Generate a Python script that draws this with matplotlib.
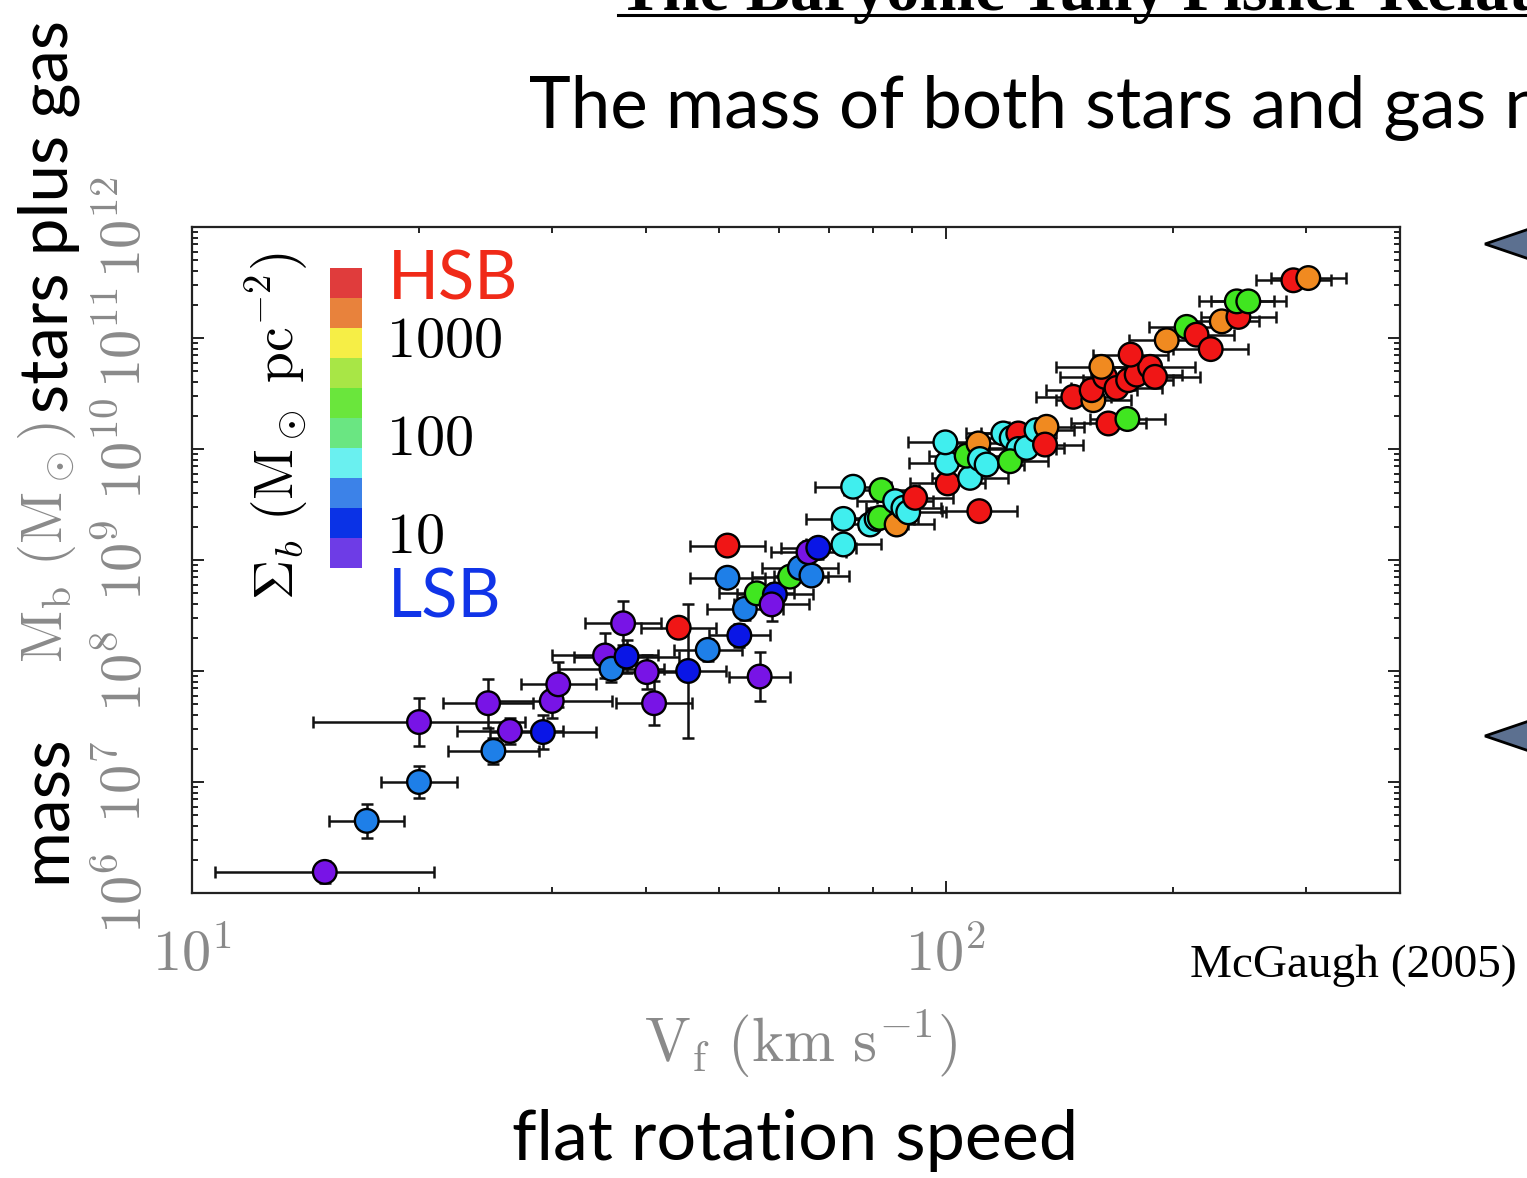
import numpy as np
import matplotlib.pyplot as plt
from matplotlib.colors import ListedColormap
from matplotlib.ticker import LogLocator, FuncFormatter, NullFormatter
from matplotlib.patches import Polygon
from matplotlib.lines import Line2D

plt.rcParams['mathtext.fontset'] = 'cm'

W, H = 1527, 1178

# flat rotation speed (km/s), log10 baryonic mass (Msun), errors in dex, surface density class
vf = [15.0, 17.05, 20.0, 20.0, 24.7, 26.4, 25.1, 29.2, 30.0, 30.6,
      37.3, 35.3, 36.0, 37.7, 40.1, 41.0, 44.2, 45.5, 48.3, 53.2,
      56.6, 54.1, 51.3, 51.3, 56.1, 59.3, 58.7, 62.1, 64.0, 66.3,
      65.7, 67.7, 73.1, 73.1, 79.3, 80.9, 81.7, 86.0, 75.3, 82.1,
      85.6, 87.8, 89.1, 91.0, 100.5, 100.3, 99.8, 107.6, 106.5, 110.4,
      110.9, 113.2, 110.7, 119.1, 122.2, 124.7, 124.7, 121.6, 127.9, 131.8,
      135.9, 135.3, 147.5, 164.2, 174.0, 156.8, 156.0, 162.5, 168.3, 174.4,
      179.0, 186.5, 189.3, 160.7, 175.7, 196.2, 208.5, 214.9, 224.4, 232.1,
      244.2, 243.0, 251.7, 288.8, 302.3]
log_mb = [6.19, 6.65, 7.00, 7.54, 7.71, 7.46, 7.28, 7.45, 7.73, 7.88,
          8.43, 8.14, 8.02, 8.13, 7.99, 7.71, 8.39, 8.00, 8.19, 8.32,
          7.95, 8.56, 9.13, 8.84, 8.70, 8.69, 8.60, 8.85, 8.93, 8.86,
          9.07, 9.11, 9.14, 9.37, 9.32, 9.37, 9.38, 9.32, 9.66, 9.63,
          9.53, 9.47, 9.43, 9.56, 9.69, 9.875, 10.06, 9.74, 9.94, 10.05,
          9.91, 9.86, 9.44, 10.14, 10.10, 10.14, 10.00, 9.89, 10.01, 10.17,
          10.20, 10.04, 10.47, 10.23, 10.27, 10.44, 10.53, 10.65, 10.55, 10.62,
          10.67, 10.74, 10.65, 10.74, 10.85, 10.98, 11.10, 11.03, 10.90, 11.15,
          11.19, 11.33, 11.33, 11.52, 11.54]
vf_err = [0.145, 0.05, 0.05, 0.14, 0.06, 0.07, 0.06, 0.07, 0.08, 0.05,
          0.05, 0.07, 0.07, 0.07, 0.05, 0.05, 0.05, 0.05, 0.045, 0.04,
          0.04, 0.05, 0.05, 0.05, 0.05, 0.05, 0.05, 0.05, 0.05, 0.05,
          0.05, 0.05, 0.05, 0.05, 0.05, 0.05, 0.05, 0.05, 0.05, 0.05,
          0.05, 0.05, 0.05, 0.05, 0.05, 0.05, 0.05, 0.05, 0.05, 0.05,
          0.05, 0.05, 0.05, 0.05, 0.05, 0.05, 0.05, 0.05, 0.05, 0.05,
          0.05, 0.05, 0.05, 0.05, 0.05, 0.05, 0.06, 0.06, 0.06, 0.06,
          0.06, 0.06, 0.06, 0.06, 0.05, 0.05, 0.05, 0.05, 0.05, 0.05,
          0.05, 0.05, 0.05, 0.05, 0.05]
mb_err = [0.10, 0.15, 0.14, 0.22, 0.22, 0.12, 0.12, 0.15, 0.15, 0.20,
          0.20, 0.20, 0.12, 0.15, 0.15, 0.20, 0.08, 0.60, 0.10, 0.10,
          0.22, 0.10, 0.08, 0.08, 0.08, 0.10, 0.15, 0.08, 0.08, 0.08,
          0.10, 0.10, 0.08, 0.08, 0.08, 0.08, 0.08, 0.08, 0.07, 0.07,
          0.07, 0.07, 0.07, 0.07, 0.07, 0.07, 0.07, 0.07, 0.07, 0.07,
          0.07, 0.07, 0.07, 0.07, 0.07, 0.07, 0.07, 0.07, 0.07, 0.07,
          0.07, 0.07, 0.07, 0.07, 0.07, 0.07, 0.07, 0.07, 0.07, 0.07,
          0.07, 0.07, 0.07, 0.07, 0.07, 0.07, 0.07, 0.07, 0.07, 0.07,
          0.07, 0.07, 0.07, 0.07, 0.07]
sb_class = list('PLLPPPLBPP'
                'PPLBPPRBLB'
                'PLRLGBPGLL'
                'PBCCCCGOCG'
                'CCCRRCCCGO'
                'CCRCCRCGCC'
                'ORRRGORRRR'
                'RRROROGRRO'
                'RGGRO')

class_colors = {'P': '#7814e6', 'B': '#0a16e6', 'L': '#1e7fe8', 'C': '#40eeee',
                'G': '#40e620', 'O': '#f08a20', 'R': '#f01616'}

# surface density key, top (HSB) to bottom (LSB)
key_colors = ['#e03c3c', '#e8823c', '#f6ee46', '#a8e646', '#6ae63c',
              '#6ae682', '#6af0f0', '#3c82e8', '#0a32e6', '#6e3ce6']
key_labels = ['1000', '100', '10']
key_label_y = [357, 455, 553]


def fx(px):
    return px / W


def fy(py):
    return 1 - py / H


fig = plt.figure(figsize=(W / 100, H / 100), dpi=100)
ax = fig.add_axes([fx(192), fy(893), fx(1400) - fx(192), fy(227) - fy(893)])

v = np.array(vf)
m = 10 ** np.array(log_mb)
ev = np.array(vf_err)
em = np.array(mb_err)
xerr = [v * (1 - 10 ** -ev), v * (10 ** ev - 1)]
yerr = [m * (1 - 10 ** -em), m * (10 ** em - 1)]

ax.errorbar(v, m, xerr=xerr, yerr=yerr, fmt='none', ecolor='#111111',
            elinewidth=1.8, capsize=4, capthick=1.8, zorder=2)
ax.scatter(v, m, s=290, c=[class_colors[c] for c in sb_class],
           edgecolors='black', linewidths=1.7, zorder=3)

ax.set_xscale('log')
ax.set_yscale('log')
ax.set_xlim(10, 400)
ax.set_ylim(1e6, 1e12)

fmt = FuncFormatter(lambda val, pos: r'$10^{%d}$' % round(np.log10(val)))
ax.xaxis.set_major_formatter(fmt)
ax.yaxis.set_major_formatter(fmt)
ax.xaxis.set_minor_formatter(NullFormatter())
ax.yaxis.set_minor_formatter(NullFormatter())
ax.yaxis.set_major_locator(LogLocator(base=10, numticks=20))
ax.yaxis.set_minor_locator(LogLocator(base=10, subs=np.arange(2, 10), numticks=20))

ax.tick_params(which='both', direction='in', top=True, right=True, width=1.4,
               colors='#222222', labelcolor='#8a8a8a', labelsize=42)
ax.tick_params(which='major', length=8.5)
ax.tick_params(which='minor', length=4.3)
ax.tick_params(axis='x', pad=24)
ax.tick_params(axis='y', pad=28, labelrotation=90)
for lab in ax.get_yticklabels():
    lab.set_verticalalignment('center')
for s in ax.spines.values():
    s.set_linewidth(1.6)
    s.set_color('#222222')

# surface density key
kax = fig.add_axes([fx(330), fy(568), fx(32), fy(268) - fy(568)])
kax.imshow(np.arange(len(key_colors))[:, None], cmap=ListedColormap(key_colors),
           aspect='auto', interpolation='nearest')
kax.axis('off')
fig.text(fx(388), fy(300), 'HSB', color='#f02a18', fontsize=48, family='Lato')
fig.text(fx(388), fy(618), 'LSB', color='#1034e8', fontsize=48, family='Lato')
for lab, yy in zip(key_labels, key_label_y):
    fig.text(fx(386), fy(yy), r'$\mathrm{%s}$' % lab, fontsize=42, color='black')
fig.text(fx(294), fy(600), r'$\Sigma_b\ (\mathrm{M_\odot\ pc^{-2}})$', fontsize=40,
         rotation=90, rotation_mode='anchor', ha='left', va='baseline', color='black')

# y axis labels
fig.text(fx(66), fy(883), 'mass', fontsize=49, family='Lato', rotation=90,
         rotation_mode='anchor', ha='left', va='baseline')
fig.text(fx(62), fy(663), r'$\mathrm{M_b}\ (\mathrm{M_\odot})$', fontsize=41,
         color='#8a8a8a', rotation=90, rotation_mode='anchor', ha='left', va='baseline')
fig.text(fx(68), fy(413), 'stars plus gas', fontsize=48.5, family='Lato', rotation=90,
         rotation_mode='anchor', ha='left', va='baseline')

# x axis labels
fig.text(fx(801), fy(1062), r'$\mathrm{V_f}\ (\mathrm{km\ s^{-1}})$', fontsize=44,
         color='#8a8a8a', ha='center', va='baseline')
fig.text(fx(795), fy(1160), 'flat rotation speed', fontsize=50.5, family='Lato',
         ha='center', va='baseline')

fig.text(fx(1190), fy(977), 'McGaugh (2005)', fontsize=34, family='Liberation Serif',
         va='baseline')

# slide titles, cropped by the screenshot
fig.text(fx(618), fy(10), 'The Baryonic Tully Fisher Relation', fontsize=48,
         family='Liberation Serif', weight='bold', va='baseline')
fig.add_artist(Line2D([fx(618), 1.0], [fy(15), fy(15)], color='black', lw=2.2,
                      transform=fig.transFigure))
fig.text(fx(529), fy(128), 'The mass of both stars and gas n', fontsize=51,
         family='Lato', va='baseline')

# pointers on the right edge
for ty in [244, 736]:
    tri = Polygon([(fx(1485), fy(ty)), (fx(1535), fy(ty - 17)), (fx(1535), fy(ty + 17))],
                  closed=True, transform=fig.transFigure, facecolor='#5c7090',
                  edgecolor='black', lw=2)
    fig.add_artist(tri)

fig.savefig('out.png', dpi=100)
